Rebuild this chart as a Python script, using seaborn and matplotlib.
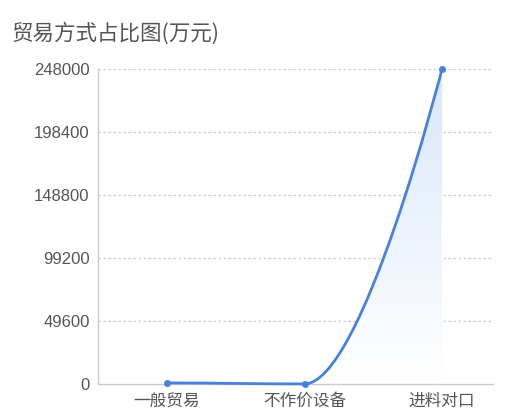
import matplotlib
matplotlib.use("Agg")
import matplotlib.pyplot as plt
import numpy as np
import pandas as pd
import seaborn as sns
from matplotlib.path import Path
from matplotlib.patches import PathPatch
from matplotlib.colors import LinearSegmentedColormap

# data
categories = ["一般贸易", "不作价设备", "进料对口"]
values = [900, 100, 248000]
y_ticks = [0, 49600, 99200, 148800, 198400, 248000]
title = "贸易方式占比图(万元)"

df = pd.DataFrame({"cat": categories, "value": values, "x": range(len(categories))})

sns.set_theme(style="white")
plt.rcParams["font.family"] = ["Noto Sans CJK SC", "DejaVu Sans"]

line_color = "#4a80d8"

fig = plt.figure(figsize=(5.05, 4.17), dpi=100)
ax = fig.add_axes([0.194, 0.079, 0.782, 0.7555])

# smooth curve through the points (cubic bezier segments)
xs, ys = df["x"].tolist(), df["value"].tolist()
verts = [(xs[0], ys[0])]
codes = [Path.MOVETO]
for i in range(1, len(xs)):
    x0, y0, x1, y1 = xs[i - 1], ys[i - 1], xs[i], ys[i]
    if i == len(xs) - 1:
        c1, c2 = (x0 + 0.42, y0), (x1, y1)
    else:
        c1, c2 = (x0 + 0.35, y0), (x1 - 0.35, y1)
    verts += [c1, c2, (x1, y1)]
    codes += [Path.CURVE4] * 3

line_path = Path(verts, codes)
ax.add_patch(PathPatch(line_path, facecolor="none", edgecolor=line_color, lw=2, zorder=3, clip_on=False))

# gradient area under the curve
area_path = Path(verts + [(xs[-1], 0), (xs[0], 0), verts[0]],
                 codes + [Path.LINETO, Path.LINETO, Path.CLOSEPOLY])
area_patch = PathPatch(area_path, facecolor="none", edgecolor="none")
ax.add_patch(area_patch)
cmap = LinearSegmentedColormap.from_list("fade", ["#ffffff", "#d8e7fa"])
grad = np.linspace(0, 1, 256).reshape(-1, 1)
im = ax.imshow(grad, extent=[xs[0], xs[-1], 0, max(values)], origin="lower",
               aspect="auto", cmap=cmap, zorder=1)
im.set_clip_path(area_patch)

sns.scatterplot(data=df, x="x", y="value", ax=ax, color=line_color, s=22,
                edgecolor=line_color, zorder=4, clip_on=False, legend=False)

ax.set_xlim(-0.502, 2.37)
ax.set_ylim(0, 248000)
ax.set_yticks(y_ticks)
ax.set_yticklabels([str(v) for v in y_ticks], family=["Liberation Sans", "DejaVu Sans"])
ax.set_xticks(range(len(categories)))
ax.set_xticklabels(categories)
ax.set_xlabel("")
ax.set_ylabel("")

for v in y_ticks[1:]:
    ax.axhline(v, color="#cccccc", lw=0.9, ls=(0, (2, 2)), zorder=0)

for side in ["top", "right"]:
    ax.spines[side].set_visible(False)
for side in ["left", "bottom"]:
    ax.spines[side].set_color("#cccccc")
    ax.spines[side].set_linewidth(1)

ax.tick_params(axis="both", length=0, labelsize=12, colors="#555555")
ax.tick_params(axis="y", pad=6)
ax.tick_params(axis="x", pad=6)

fig.text(0.022, 0.92, title, fontsize=15.5, color="#555555", va="center", ha="left")

fig.savefig("out.png", dpi=100)
